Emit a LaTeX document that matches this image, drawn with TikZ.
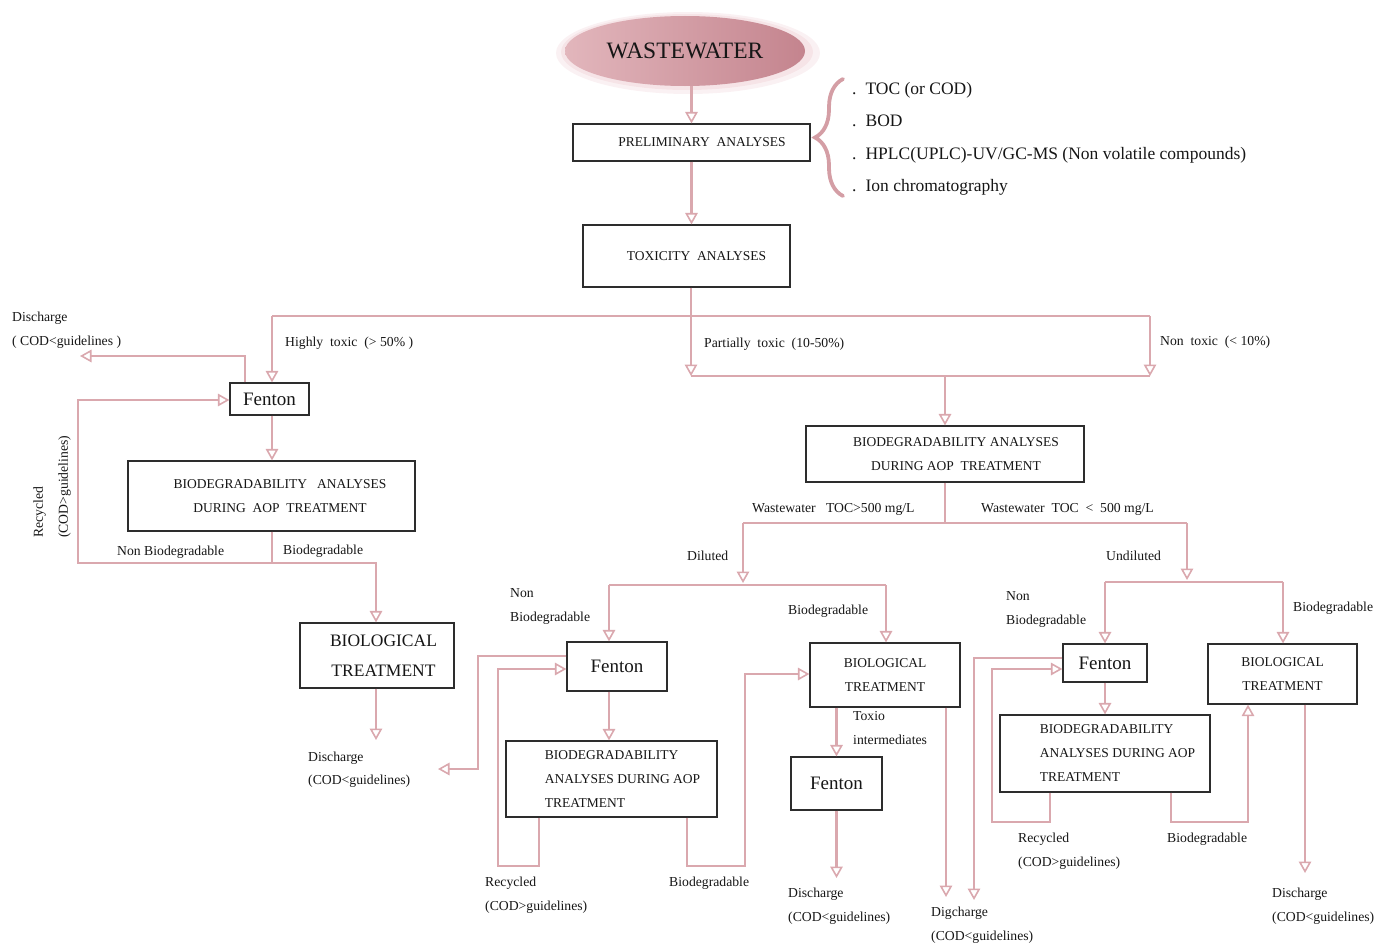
\documentclass[tikz,border=0pt]{standalone}
\usepackage{fontspec}
\setmainfont{Liberation Serif}
\usetikzlibrary{arrows.meta,decorations.pathreplacing,shapes.geometric}

\definecolor{lpink}{RGB}{218,168,174}
\definecolor{bracepink}{RGB}{212,158,165}
\definecolor{boxgray}{RGB}{45,45,45}
\definecolor{txt}{RGB}{22,22,22}
\definecolor{ellL}{RGB}{226,182,188}
\definecolor{ellR}{RGB}{196,132,142}
\definecolor{halo}{RGB}{246,228,231}

\newcommand\fsLbl{\fontsize{13.7}{24}\selectfont}
\newcommand\fsBox{\fontsize{13.5}{24}\selectfont}
\newcommand\fsFen{\fontsize{19}{22}\selectfont}
\newcommand\fsBig{\fontsize{17.5}{30}\selectfont}
\newcommand\fsList{\fontsize{17.5}{20}\selectfont}
\newcommand\fsTitle{\fontsize{23.5}{26}\selectfont}

\begin{document}
\begin{tikzpicture}[x=1pt,y=-1pt,
  flow/.style={draw=lpink, line width=2.1pt},
  arr/.style={flow, -{Triangle[open, length=11.5pt, width=12.5pt, line width=1.6pt]}},
  box/.style={draw=boxgray, line width=1.2pt, fill=white, inner sep=0pt, align=center, text=txt, font=\fsBox},
  fenbox/.style={box, font=\fsFen},
  lbl/.style={inner sep=0pt, anchor=west, text height=9.5pt, text depth=0pt, text=txt, font=\fsLbl},
  item/.style={inner sep=0pt, anchor=west, text height=12pt, text depth=0pt, text=txt, font=\fsList},
]
\useasboundingbox (0,0) rectangle (1375,942);

% ---------- source ----------
\fill[halo, opacity=0.5] (688,53) ellipse (132pt and 41pt);
\fill[halo] (687,52) ellipse (126pt and 38pt);
\node[ellipse, minimum width=240pt, minimum height=70pt, inner sep=0pt,
      left color=ellL, right color=ellR, text=txt] (ww) at (685,51) {\fsTitle WASTEWATER};

% ---------- boxes ----------
\node[box, minimum width=237pt, minimum height=37pt] (prelim) at (691.5,142.5)
  {\hspace*{21pt}PRELIMINARY\ \ ANALYSES};
\node[box, minimum width=207pt, minimum height=62pt] (tox) at (686.5,256)
  {\hspace*{20pt}TOXICITY\ \ ANALYSES};

\node[fenbox, minimum width=79pt, minimum height=32pt] (fL) at (269.5,399) {Fenton};
\node[box, minimum width=287pt, minimum height=70pt] (bioL) at (271.5,496)
  {\hspace*{17pt}BIODEGRADABILITY\ \ \ ANALYSES\\ \hspace*{17pt}DURING\ \ AOP\ \ TREATMENT};
\node[box, font=\fsBig, minimum width=154pt, minimum height=65pt] (biolL) at (377,655.5)
  {\hspace*{13pt}BIOLOGICAL\\ \hspace*{13pt}TREATMENT};

\node[box, minimum width=278pt, minimum height=56pt] (bioM) at (945,454)
  {\hspace*{22pt}BIODEGRADABILITY ANALYSES\\ \hspace*{22pt}DURING AOP\ \ TREATMENT};

\node[fenbox, minimum width=100pt, minimum height=49pt] (fM) at (617,666.5) {Fenton};
\node[box, align=left, minimum width=211pt, minimum height=76pt] (bioM2) at (611.5,779)
  {\hspace*{22pt}BIODEGRADABILITY\\ \hspace*{22pt}ANALYSES DURING AOP\\ \hspace*{22pt}TREATMENT};
\node[box, minimum width=150pt, minimum height=64pt] (biolM) at (885,675)
  {BIOLOGICAL\\ TREATMENT};
\node[fenbox, minimum width=91pt, minimum height=53pt] (fM2) at (836.5,783.5) {Fenton};

\node[fenbox, minimum width=84pt, minimum height=38pt] (fR) at (1105,663) {Fenton};
\node[box, align=left, minimum width=210pt, minimum height=77pt] (bioR) at (1105,753.5)
  {\hspace*{25pt}BIODEGRADABILITY\\ \hspace*{25pt}ANALYSES DURING AOP\\ \hspace*{25pt}TREATMENT};
\node[box, minimum width=149pt, minimum height=60pt] (biolR) at (1282.5,674)
  {BIOLOGICAL\\ TREATMENT};

% ---------- preliminary analyses list ----------
\draw[bracepink, line width=3.8pt, line cap=round, decorate,
      decoration={brace, amplitude=28pt}] (843,196) -- (843,79);
\node[item] (i1) at (852,88)  {.\hspace{9pt}TOC (or COD)};
\node[item] (i2) at (852,120) {.\hspace{9pt}BOD};
\node[item] (i3) at (852,153) {.\hspace{9pt}HPLC(UPLC)-UV/GC-MS (Non volatile compounds)};
\node[item] (i4) at (852,185) {.\hspace{9pt}Ion chromatography};

% ---------- junction points ----------
\coordinate (t1) at (691,316);
\coordinate (tl) at (272,316);
\coordinate (tr) at (1150,316);
\coordinate (pm) at (691,376);
\coordinate (pr) at (1150,376);
\coordinate (pj) at (945,376);
\coordinate (dLa) at (245,356);
\coordinate (dL) at (80,356);
\coordinate (bLj) at (272,563);
\coordinate (rL1) at (78,563);
\coordinate (rL2) at (78,400);
\coordinate (bL2) at (376,563);
\coordinate (dL2) at (376,740);
\coordinate (mj) at (945,523);
\coordinate (ml) at (743,523);
\coordinate (mr) at (1187,523);
\coordinate (mla) at (743,583);
\coordinate (mra) at (1187,580);
\coordinate (dl1) at (609,585);
\coordinate (dl2) at (886,585);
\coordinate (fd1) at (478,656);
\coordinate (fd2) at (478,769);
\coordinate (fd3) at (438,769);
\coordinate (rm1) at (539,866);
\coordinate (rm2) at (498,866);
\coordinate (rm3) at (498,669);
\coordinate (bm1) at (687,866);
\coordinate (bm2) at (745,866);
\coordinate (bm3) at (745,674);
\coordinate (d3) at (836.5,878);
\coordinate (d4) at (946,897);
\coordinate (u1) at (1105,582);
\coordinate (u2) at (1283,582);
\coordinate (r1) at (974,658);
\coordinate (r2) at (974,900);
\coordinate (rr1) at (1050,822);
\coordinate (rr2) at (992,822);
\coordinate (rr3) at (992,669);
\coordinate (br1) at (1171,822);
\coordinate (br2) at (1248,822);
\coordinate (d5) at (1305,873);

% ---------- connectors ----------
\draw[arr] (prelim.north |- ww.south) -- (prelim.north);
\draw[arr] (prelim.south) -- (prelim.south |- tox.north);
\draw[flow] (tox.south -| t1) -- (t1);
\draw[flow] (tl) -- (tr);
\draw[arr] (tl) -- (fL.north -| tl);
\draw[arr] (t1) -- (pm);
\draw[arr] (tr) -- (pr);
\draw[flow] (pm) -- (pr);
\draw[arr] (pj) -- (bioM.north -| pj);

% highly toxic branch
\draw[arr] (fL.north -| dLa) -- (dLa) -- (dL);
\draw[arr] (fL.south -| tl) -- (bioL.north -| tl);
\draw[flow] (bioL.south -| bLj) -- (bLj);
\draw[arr] (bLj) -- (rL1) -- (rL2) -- (fL.west |- rL2);
\draw[arr] (bLj) -- (bL2) -- (biolL.north -| bL2);
\draw[arr] (biolL.south -| dL2) -- (dL2);

% partially / non toxic branch
\draw[flow] (bioM.south -| mj) -- (mj);
\draw[flow] (ml) -- (mr);
\draw[arr] (ml) -- (mla);
\draw[arr] (mr) -- (mra);

% diluted
\draw[flow] (dl1) -- (dl2);
\draw[arr] (dl1) -- (fM.north -| dl1);
\draw[arr] (dl2) -- (biolM.north -| dl2);
\draw[arr] (fM.south -| dl1) -- (bioM2.north -| dl1);
\draw[arr] (fM.west |- fd1) -- (fd1) -- (fd2) -- (fd3);
\draw[arr] (bioM2.south -| rm1) -- (rm1) -- (rm2) -- (rm3) -- (fM.west |- rm3);
\draw[arr] (bioM2.south -| bm1) -- (bm1) -- (bm2) -- (bm3) -- (biolM.west |- bm3);
\draw[arr] (biolM.south -| fM2.north) -- (fM2.north);
\draw[arr] (fM2.south) -- (d3);
\draw[arr] (biolM.south -| d4) -- (d4);

% undiluted
\draw[flow] (u1) -- (u2);
\draw[arr] (u1) -- (fR.north);
\draw[arr] (u2) -- (biolR.north -| u2);
\draw[arr] (fR.south) -- (bioR.north -| fR.south);
\draw[arr] (fR.west |- r1) -- (r1) -- (r2);
\draw[arr] (bioR.south -| rr1) -- (rr1) -- (rr2) -- (rr3) -- (fR.west |- rr3);
\draw[arr] (bioR.south -| br1) -- (br1) -- (br2) -- (biolR.south -| br2);
\draw[arr] (biolR.south -| d5) -- (d5);

% ---------- labels ----------
\node[lbl] (a1) at (12,317) {Discharge};
\node[lbl] (a2) at (12,341) {( COD<guidelines )};
\node[lbl] (a3) at (285,342) {Highly\ \ toxic\ \ (> 50\% )};
\node[lbl] (a4) at (704,343) {Partially\ \ toxic\ \ (10-50\%)};
\node[lbl] (a5) at (1160,341) {Non\ \ toxic\ \ (< 10\%)};
\node[lbl, rotate=90] (a6) at (38,538) {Recycled};
\node[lbl, rotate=90] (a7) at (63,538) {(COD>guidelines)};
\node[lbl] (a8) at (117,551) {Non Biodegradable};
\node[lbl] (a9) at (283,550) {Biodegradable};
\node[lbl] (a10) at (308,757) {Discharge};
\node[lbl] (a11) at (308,780) {(COD<guidelines)};

\node[lbl] (b1) at (752,508) {Wastewater\ \ \ TOC>500 mg/L};
\node[lbl] (b2) at (981,508) {Wastewater\ \ TOC\ \ <\ \ 500 mg/L};
\node[lbl] (b3) at (687,556) {Diluted};
\node[lbl] (b4) at (1106,556) {Undiluted};

\node[lbl] (c1) at (510,593) {Non};
\node[lbl] (c2) at (510,617) {Biodegradable};
\node[lbl] (c3) at (788,610) {Biodegradable};
\node[lbl] (c4) at (853,716) {Toxio};
\node[lbl] (c5) at (853,740) {intermediates};
\node[lbl] (c6) at (485,882) {Recycled};
\node[lbl] (c7) at (485,906) {(COD>guidelines)};
\node[lbl] (c8) at (669,882) {Biodegradable};
\node[lbl] (c9) at (788,893) {Discharge};
\node[lbl] (c10) at (788,917) {(COD<guidelines)};
\node[lbl] (c11) at (931,912) {Digcharge};
\node[lbl] (c12) at (931,936) {(COD<guidelines)};

\node[lbl] (e1) at (1006,596) {Non};
\node[lbl] (e2) at (1006,620) {Biodegradable};
\node[lbl] (e3) at (1293,607) {Biodegradable};
\node[lbl] (e4) at (1018,838) {Recycled};
\node[lbl] (e5) at (1018,862) {(COD>guidelines)};
\node[lbl] (e6) at (1167,838) {Biodegradable};
\node[lbl] (e7) at (1272,893) {Discharge};
\node[lbl] (e8) at (1272,917) {(COD<guidelines)};
\end{tikzpicture}
\end{document}
